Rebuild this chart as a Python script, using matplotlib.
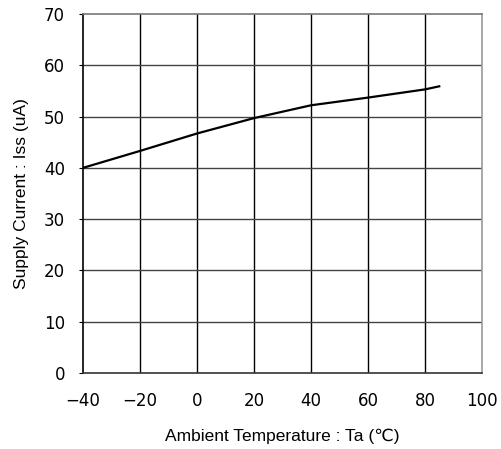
import matplotlib
matplotlib.use("Agg")
import matplotlib.pyplot as plt

temps = [-40, -20, 0, 20, 40, 60, 80, 85]
current = [40.0, 43.3, 46.7, 49.7, 52.2, 53.7, 55.3, 55.9]
xticks = [-40, -20, 0, 20, 40, 60, 80, 100]
yticks = [0, 10, 20, 30, 40, 50, 60, 70]

fig = plt.figure(figsize=(5.02, 4.49), dpi=100)
ax = fig.add_axes([83/502, 1-373/449, 399/502, 359/449])
ax.set_xlim(-40, 100)
ax.set_ylim(0, 70)
ax.set_xticks(xticks)
ax.set_yticks(yticks)
ax.set_xticklabels(["\u221240" if t == -40 else ("\u221220" if t == -20 else str(t)) for t in xticks])
for x in xticks[1:-1]:
    ax.axvline(x, color="black", lw=1.0, zorder=1)
for y in yticks[1:-1]:
    ax.axhline(y, color="#444444", lw=1.0, zorder=1)
ax.plot(temps, current, color="black", lw=1.6, zorder=3)
ax.spines["left"].set_color("black")
ax.spines["bottom"].set_color("#333333")
ax.spines["top"].set_color("#777777")
ax.spines["right"].set_color("#999999")
for s in ax.spines.values():
    s.set_linewidth(1.2)
ax.tick_params(axis="y", direction="out", length=3, pad=10, labelsize=12)
ax.tick_params(axis="x", length=0, pad=14, labelsize=12)
ax.set_xlabel("Ambient Temperature : Ta (\u2103)", fontsize=12.5, family=["Liberation Sans", "DejaVu Sans"], labelpad=13)
ax.set_ylabel("Supply Current : Iss (uA)", fontsize=12.5, family=["Liberation Sans", "DejaVu Sans"], labelpad=11)
fig.savefig("out.png", dpi=100)
